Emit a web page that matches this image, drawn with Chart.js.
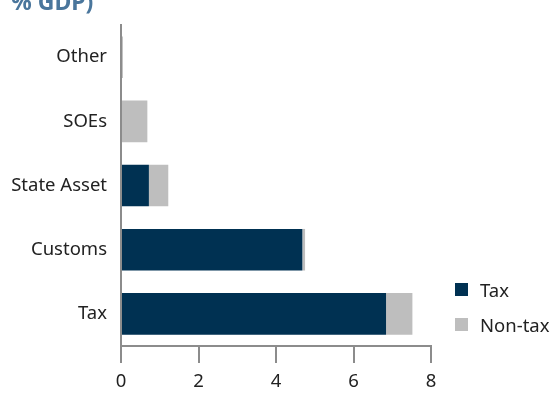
<!DOCTYPE html>
<html>
<head>
<meta charset="utf-8">
<script src="https://cdn.jsdelivr.net/npm/chart.js@4/dist/chart.umd.min.js"></script>
<style>
  html, body { margin: 0; padding: 0; background: #fff; }
  #wrap { position: relative; width: 554px; height: 394px; overflow: hidden; font-family: "Noto Sans", sans-serif; }
  #title { position: absolute; left: 11px; top: -15px; font-size: 23px; font-weight: bold; color: #4a769c; white-space: nowrap; }
  #legend { position: absolute; left: 455px; top: 279px; font-size: 18.5px; color: #222; }
  .item { display: flex; align-items: center; height: 20px; margin-bottom: 15px; }
  .swatch { width: 13px; height: 13px; margin-right: 12px; }
</style>
</head>
<body>
<div id="wrap">
  <canvas id="revenueChart" width="554" height="394"></canvas>
  <div id="title">% GDP)</div>
  <div id="legend"></div>
</div>
<script>
// Revenue by source, % of GDP
const categories = ['Other', 'SOEs', 'State Asset', 'Customs', 'Tax'];
const taxValues = [0, 0, 0.72, 4.68, 6.84];
const nonTaxValues = [0.05, 0.68, 0.50, 0.07, 0.68];
const xTicks = [0, 2, 4, 6, 8];

const axisGrey = '#8c8c8c';
const fontSpec = { family: 'Noto Sans', size: 18.5 };

const chart = new Chart(document.getElementById('revenueChart'), {
  type: 'bar',
  data: {
    labels: categories,
    datasets: [
      { label: 'Tax', data: taxValues, backgroundColor: '#003152' },
      { label: 'Non-tax', data: nonTaxValues, backgroundColor: '#bebebe' }
    ]
  },
  options: {
    indexAxis: 'y',
    responsive: false,
    animation: false,
    categoryPercentage: 0.8,
    barPercentage: 0.81,
    layout: { padding: { top: 13, right: 123, bottom: 0, left: 0 } },
    plugins: {
      legend: { display: false },
      tooltip: { enabled: false }
    },
    scales: {
      x: {
        stacked: true,
        min: 0,
        max: 8,
        afterBuildTicks: function(scale) {
          scale.ticks = xTicks.map(v => ({ value: v }));
        },
        afterFit: function(scale) { scale.height = 48; },
        ticks: { color: '#222', font: fontSpec, padding: 8 },
        grid: { drawOnChartArea: false, drawTicks: true, tickLength: 17, color: axisGrey, lineWidth: 2 },
        border: { color: axisGrey, width: 2 }
      },
      y: {
        stacked: true,
        afterFit: function(scale) { scale.width = 121; },
        ticks: { color: '#222', font: fontSpec, padding: 14 },
        grid: { display: false, drawTicks: false },
        border: { color: axisGrey, width: 2 }
      }
    }
  }
});

// Legend built from the dataset labels and colours
const legend = document.getElementById('legend');
chart.data.datasets.forEach(ds => {
  const item = document.createElement('div');
  item.className = 'item';
  item.innerHTML = '<span class="swatch" style="background:' + ds.backgroundColor + '"></span>' + ds.label;
  legend.appendChild(item);
});
</script>
</body>
</html>
